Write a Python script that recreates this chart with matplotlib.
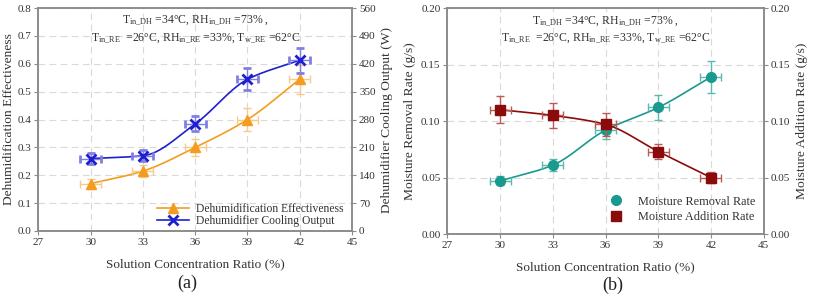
import numpy as np
import matplotlib.pyplot as plt
from matplotlib.lines import Line2D

plt.rcParams['font.family'] = ['Liberation Serif', 'DejaVu Serif']
plt.rcParams['mathtext.fontset'] = 'custom'
plt.rcParams['mathtext.rm'] = 'Liberation Serif'
plt.rcParams['mathtext.it'] = 'Liberation Serif:italic'

conc = [30, 33, 36, 39, 42]
conc_err = [0.6, 0.6, 0.6, 0.6, 0.6]

# (a)
effectiveness = [0.17, 0.215, 0.30, 0.40, 0.545]
effectiveness_err = [0.018, 0.022, 0.03, 0.04, 0.052]
cooling = [182, 189, 269, 381, 429]
cooling_err = [13, 14, 19, 28, 32]

# (b)
removal = [0.047, 0.061, 0.092, 0.112, 0.139]
removal_err = [0.004, 0.005, 0.008, 0.011, 0.014]
addition = [0.110, 0.105, 0.097, 0.073, 0.050]
addition_err = [0.012, 0.011, 0.010, 0.007, 0.005]

cond_text = ('T$_{\\mathrm{in\\_DH}}$ =34°C, RH$_{\\mathrm{in\\_DH}}$ =73% ,\n'
             'T$_{\\mathrm{in\\_RE}}$  =26°C, RH$_{\\mathrm{in\\_RE}}$ =33%, T$_{\\mathrm{w\\_RE}}$ =62°C')

frame_c = '#8c8c8c'
txt_c = '#333333'


def smooth(x, y, n=200):
    # monotone cubic (Fritsch-Carlson) just for drawing the curve
    x = np.asarray(x, float)
    y = np.asarray(y, float)
    h = np.diff(x)
    d = np.diff(y) / h
    m = np.zeros_like(y)
    m[0], m[-1] = d[0], d[-1]
    for i in range(1, len(y) - 1):
        if d[i - 1] * d[i] > 0:
            m[i] = 2 / (1 / d[i - 1] + 1 / d[i])
    xs = np.linspace(x[0], x[-1], n)
    idx = np.clip(np.searchsorted(x, xs) - 1, 0, len(x) - 2)
    t = (xs - x[idx]) / h[idx]
    h00 = 2 * t**3 - 3 * t**2 + 1
    h10 = t**3 - 2 * t**2 + t
    h01 = -2 * t**3 + 3 * t**2
    h11 = t**3 - t**2
    ys = h00 * y[idx] + h10 * h[idx] * m[idx] + h01 * y[idx + 1] + h11 * h[idx] * m[idx + 1]
    return xs, ys


def style(ax):
    for s in ax.spines.values():
        s.set_color(frame_c)
        s.set_linewidth(1.2)
    ax.tick_params(colors=txt_c, labelsize=8, length=3, direction='out', pad=2)
    ax.tick_params(axis='both', color=frame_c)


fig = plt.figure(figsize=(8.15, 3.0), dpi=100)

# ---------- (a) ----------
ax1 = fig.add_axes([0.047, 0.23, 0.385, 0.743])
ax1b = ax1.twinx()
ax1.set_xlim(27, 45)
ax1.set_ylim(0, 0.8)
ax1b.set_ylim(0, 560)
ax1.set_xticks(np.arange(27, 46, 3))
ax1.set_yticks(np.arange(0, 0.81, 0.1))
ax1.set_yticklabels([f'{v:.1f}' for v in np.arange(0, 0.81, 0.1)])
ax1b.set_yticks(np.arange(0, 561, 70))
ax1.grid(True, ls=(0, (6, 4)), color='#d9d9d9', lw=0.8)
ax1.set_axisbelow(True)

orange = '#f39c1f'
blue = '#1f1fd0'
xs, ys = smooth(conc, effectiveness)
ax1.plot(xs, ys, color=orange, lw=1.2)
ax1.errorbar(conc, effectiveness, yerr=effectiveness_err, xerr=conc_err, fmt='^',
             color=orange, ecolor='#f7c98a', elinewidth=1, capsize=3, ms=7)
xs, ys = smooth(conc, cooling)
ax1b.plot(xs, ys, color=blue, lw=1.2)
ax1b.errorbar(conc, cooling, yerr=cooling_err, xerr=conc_err, fmt='x',
              color=blue, ecolor='#8080e0', elinewidth=1, capsize=3, ms=7, mew=2)

ax1.set_xlabel('Solution Concentration Ratio (%)', fontsize=9.5, color=txt_c, labelpad=8)
ax1.set_ylabel('Dehumidification Effectiveness', fontsize=9.7, color=txt_c, labelpad=2)
ax1b.set_ylabel('Dehumidifier Cooling Output (W)', fontsize=9.7, color=txt_c, labelpad=4)
ax1.text(0.5, 0.975, cond_text, transform=ax1.transAxes, ha='center', va='top',
         fontsize=8.5, color=txt_c, linespacing=1.4)
h1 = [Line2D([], [], color=orange, marker='^', ms=7, lw=1.2),
      Line2D([], [], color=blue, marker='x', ms=7, mew=2, lw=1.2)]
ax1.legend(h1, ['Dehumidification Effectiveness', 'Dehumidifier Cooling Output'],
           loc='lower right', bbox_to_anchor=(1.0, -0.02), frameon=False, fontsize=8.4,
           handlelength=2.8, handletextpad=0.6, labelspacing=0.05, borderpad=0.2,
           labelcolor=txt_c)
style(ax1)
style(ax1b)
fig.text(0.23, 0.055, '(a)', ha='center', va='center', fontsize=13, color='#222222')

# ---------- (b) ----------
ax2 = fig.add_axes([0.549, 0.22, 0.388, 0.753])
ax2b = ax2.twinx()
ax2.set_xlim(27, 45)
ax2.set_ylim(0, 0.2)
ax2b.set_ylim(0, 0.2)
ax2.set_xticks(np.arange(27, 46, 3))
ax2.set_yticks(np.arange(0, 0.21, 0.05))
ax2b.set_yticks(np.arange(0, 0.21, 0.05))
ax2.set_yticklabels([f'{v:.2f}' for v in np.arange(0, 0.21, 0.05)])
ax2b.set_yticklabels([f'{v:.2f}' for v in np.arange(0, 0.21, 0.05)])
ax2.grid(True, ls=(0, (6, 4)), color='#d9d9d9', lw=0.8)
ax2.set_axisbelow(True)

teal = '#1a9a8e'
red = '#8b0a0a'
xs, ys = smooth(conc, removal)
ax2.plot(xs, ys, color=teal, lw=1.2)
ax2.errorbar(conc, removal, yerr=removal_err, xerr=conc_err, fmt='o',
             color=teal, ecolor='#5cb8b0', elinewidth=1, capsize=3, ms=7)
xs, ys = smooth(conc, addition)
ax2b.plot(xs, ys, color=red, lw=1.2)
ax2b.errorbar(conc, addition, yerr=addition_err, xerr=conc_err, fmt='s',
              color=red, ecolor='#b85a5a', elinewidth=1, capsize=3, ms=6.5)

ax2.set_xlabel('Solution Concentration Ratio (%)', fontsize=9.5, color=txt_c, labelpad=8)
ax2.set_ylabel('Moisture Removal Rate (g/s)', fontsize=9.7, color=txt_c, labelpad=4)
ax2b.set_ylabel('Moisture Addition Rate (g/s)', fontsize=9.7, color=txt_c, labelpad=4)
ax2.text(0.5, 0.975, cond_text, transform=ax2.transAxes, ha='center', va='top',
         fontsize=8.5, color=txt_c, linespacing=1.4)
h2 = [Line2D([], [], color=teal, marker='o', ms=7, lw=0),
      Line2D([], [], color=red, marker='s', ms=6.5, lw=0)]
ax2.legend(h2, ['Moisture Removal Rate', 'Moisture Addition Rate'],
           loc='lower right', bbox_to_anchor=(1.0, 0.01), frameon=False, fontsize=8.8,
           handlelength=1.2, handletextpad=1.2, labelspacing=0.3, borderpad=0.2,
           labelcolor=txt_c)
style(ax2)
style(ax2b)
fig.text(0.752, 0.05, '(b)', ha='center', va='center', fontsize=13, color='#222222')

fig.savefig('out.png', dpi=100)
